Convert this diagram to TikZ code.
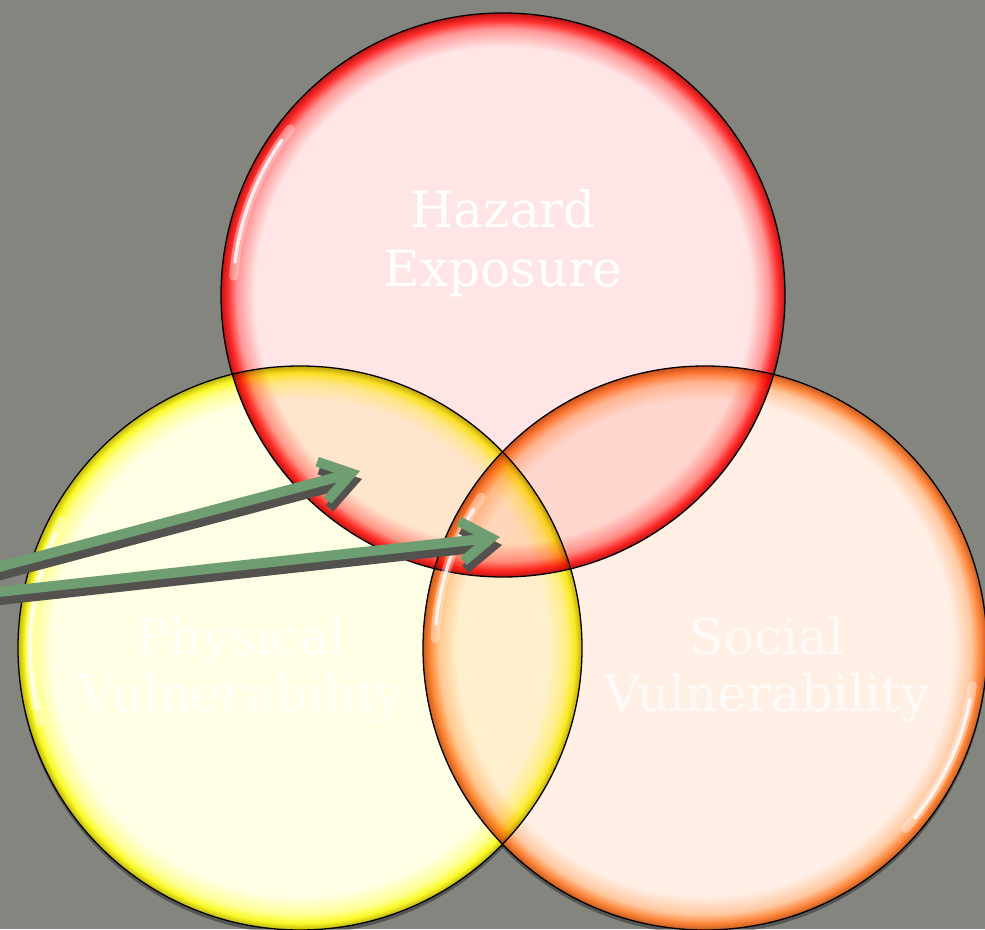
\documentclass[tikz,border=0pt]{standalone}
\usepackage{fontspec}
\setmainfont{DejaVu Serif}
\usetikzlibrary{arrows.meta}

\definecolor{bg}{RGB}{133,133,127}
\definecolor{arrowgreen}{RGB}{110,158,114}
\definecolor{arrowshade}{RGB}{84,82,78}
% disc colours: pale centre, light band, saturated rim
\definecolor{redpale}{RGB}{255,229,229}
\definecolor{redband}{RGB}{255,150,150}
\definecolor{redrim}{RGB}{255,45,45}
\definecolor{reddeep}{RGB}{190,20,20}
\definecolor{yelpale}{RGB}{255,255,229}
\definecolor{yelband}{RGB}{255,255,150}
\definecolor{yelrim}{RGB}{250,250,40}
\definecolor{yeldeep}{RGB}{190,180,10}
\definecolor{orapale}{RGB}{255,239,229}
\definecolor{oraband}{RGB}{255,200,160}
\definecolor{orarim}{RGB}{255,135,60}
\definecolor{oradeep}{RGB}{200,90,30}

\pgfdeclareradialshading{glassred}{\pgfpoint{0bp}{0bp}}{%
  color(0bp)=(redpale); color(22bp)=(redpale); color(23.6bp)=(redband);
  color(24.4bp)=(redrim); color(25bp)=(reddeep); color(50bp)=(reddeep)}
\pgfdeclareradialshading{glassyellow}{\pgfpoint{0bp}{0bp}}{%
  color(0bp)=(yelpale); color(22bp)=(yelpale); color(23.6bp)=(yelband);
  color(24.4bp)=(yelrim); color(25bp)=(yeldeep); color(50bp)=(yeldeep)}
\pgfdeclareradialshading{glassorange}{\pgfpoint{0bp}{0bp}}{%
  color(0bp)=(orapale); color(22bp)=(orapale); color(23.6bp)=(oraband);
  color(24.4bp)=(orarim); color(25bp)=(oradeep); color(50bp)=(oradeep)}

\tikzset{
  disc/.style={draw=black, line width=1.3pt},
  gleamsoft/.style={white, line width=9pt, line cap=round, opacity=0.35},
  gleam/.style={white, line width=3.5pt, line cap=round, opacity=0.8},
  label/.style={text=white, font=\fontsize{50}{60}\selectfont, anchor=base, inner sep=0pt},
  faintlabel/.style={label, text opacity=0.75},
  pointer/.style={arrowgreen, line width=10pt,
    -{Straight Barb[length=30pt,width=40pt]}},
  pointershade/.style={pointer, draw=arrowshade}
}

\begin{document}
\begin{tikzpicture}[x=1pt,y=1pt]
\useasboundingbox (0,0) rectangle (985,929);
\fill[bg] (0,0) rectangle (985,929);
\clip (0,0) rectangle (985,929);

\coordinate (hc) at (503,634);
\coordinate (pc) at (300,281);
\coordinate (sc) at (705,281);

% soft drop shadow and opaque white base under the discs
\foreach \c in {hc,pc,sc}
  \fill[black, opacity=0.35] ([yshift=-4pt]\c) circle[radius=282pt];
\foreach \c in {hc,pc,sc}
  \fill[white] (\c) circle[radius=282pt];

% the three glass discs, multiplied together where they overlap
\begin{scope}[blend mode=multiply]
  \shadedraw[shading=glassred, disc] (hc) circle[radius=282pt];
  \shadedraw[shading=glassyellow, disc] (pc) circle[radius=282pt];
  \shadedraw[shading=glassorange, disc] (sc) circle[radius=282pt];
\end{scope}

% specular gleams along the rims
\foreach \c/\a/\b in {hc/142/176, pc/152/196, sc/146/178, sc/-42/-8} {
  \draw[gleamsoft] ([shift={(\a:270pt)}]\c) arc[start angle=\a, end angle=\b, radius=270pt];
  \draw[gleam] ([shift={(\a+3:270pt)}]\c) arc[start angle=\a+3, end angle=\b-3, radius=270pt];
}

% labels
\node[label] (hazA) at (503,701) {Hazard};
\node[label] (hazB) at (503,642) {Exposure};
\node[faintlabel] (phyA) at (241,274) {Physical};
\node[faintlabel] (phyB) at (241,217) {Vulnerability};
\node[faintlabel] (socA) at (767,274) {Social};
\node[faintlabel] (socB) at (767,217) {Vulnerability};

% pointers into the overlaps
\coordinate (s1) at (-20,357);
\coordinate (t1) at (360,458);
\coordinate (s2) at (-20,335);
\coordinate (t2) at (500,392);
\draw[pointershade] ([xshift=2pt,yshift=-8pt]s1) -- ([xshift=2pt,yshift=-8pt]t1);
\draw[pointershade] ([xshift=2pt,yshift=-8pt]s2) -- ([xshift=2pt,yshift=-8pt]t2);
\draw[pointer] (s1) -- (t1);
\draw[pointer] (s2) -- (t2);
\end{tikzpicture}
\end{document}
